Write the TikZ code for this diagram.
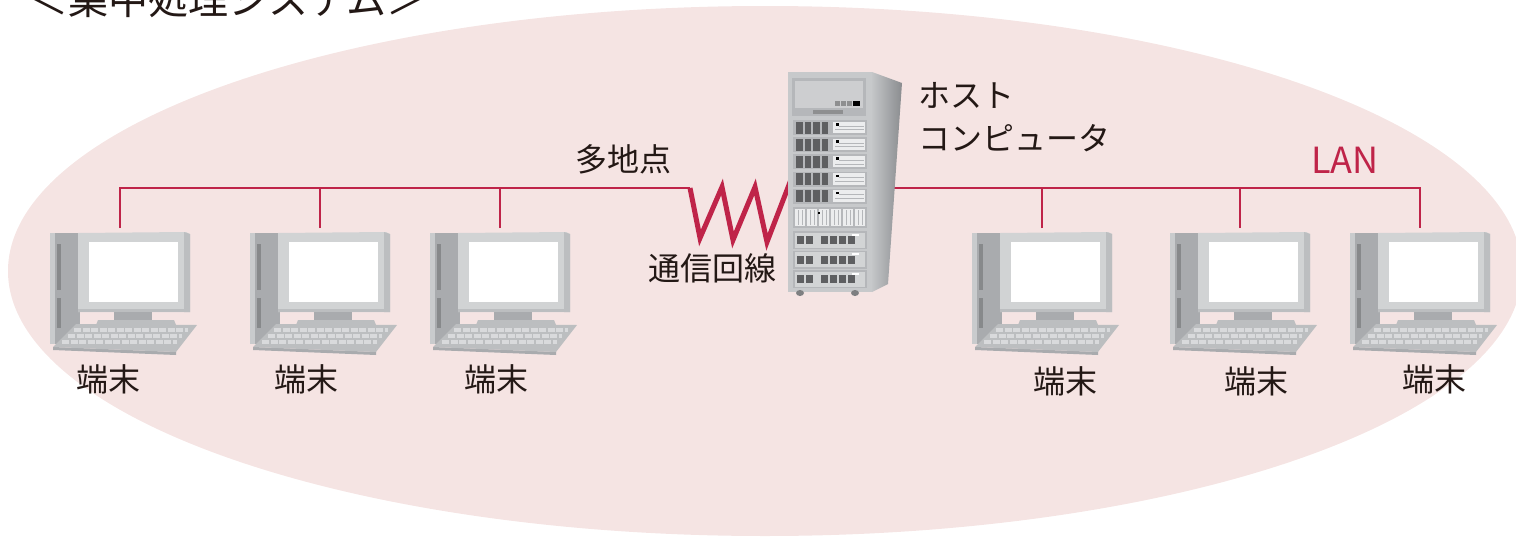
\documentclass[tikz,border=0pt]{standalone}
\usepackage{fontspec}
\setmainfont{Noto Sans CJK JP}
\definecolor{bgpink}{HTML}{F5E4E3}
\definecolor{lanred}{HTML}{BF2449}
\definecolor{ink}{HTML}{231815}
\definecolor{bezel}{HTML}{D1D3D4}
\definecolor{bezeldark}{HTML}{BCBEC0}
\definecolor{towergray}{HTML}{A9ABAE}
\definecolor{towerlight}{HTML}{C9CBCD}
\definecolor{keygray}{HTML}{BCBEC0}
\definecolor{keylight}{HTML}{D9DADC}
\definecolor{srvfront}{HTML}{C7C9CB}
\definecolor{srvpanel}{HTML}{B5B7BA}
\definecolor{srvdark}{HTML}{5E5F61}
\definecolor{srvlight}{HTML}{ECEDEE}
\definecolor{srvside}{HTML}{C4C6C8}
\definecolor{srvsidedark}{HTML}{8A8C8F}

\tikzset{
  lanline/.style={lanred, line width=2.6pt},
  zigline/.style={lanred, line width=5pt, line join=miter},
  lbl/.style={inner sep=0pt, text=ink, font=\fontsize{32}{36}\selectfont},
  % one terminal: (0,0) is the top left corner of the monitor
  terminal/.pic={
    % tower
    \fill[towergray] (-28,1) rectangle (2,112);
    \fill[towerlight] (-28,1) rectangle (-23,112);
    \fill[towergray!80!black] (-21,12) rectangle (-17,58);
    \fill[towergray!80!black] (-21,66) rectangle (-17,96);
    \fill[towerlight] (-26,104) circle (1.5);
    % monitor
    \fill[bezel] (0,1) -- (108,0) -- (112,2) -- (112,80) -- (0,80) -- cycle;
    \fill[bezeldark] (106,0) -- (112,2) -- (112,80) -- (106,80) -- cycle;
    \fill[bezeldark] (0,77) rectangle (112,80);
    \fill[white] (11,10) rectangle (100,70);
    \fill[towergray] (36,80) rectangle (74,89);
    \fill[bezeldark] (20,88) -- (96,88) -- (98,93) -- (18,93) -- cycle;
    % keyboard
    \fill[towergray] (-25,115) -- (98,120) -- (98,123) -- (-25,118) -- cycle;
    \fill[keygray] (-2,92) -- (119,93) -- (98,120) -- (-25,115) -- cycle;
    \foreach \y/\a/\b in {98/-4/110, 104/-10/104, 110/-16/99}
      \draw[keylight, line width=4pt, dash pattern=on 7pt off 1.5pt] (\a,\y) -- (\b,\y);
    \coordinate (-top) at (42,-4);
  }
}

\begin{document}
\begin{tikzpicture}[x=1pt,y=-1pt]
  \useasboundingbox (0,0) rectangle (1516,538);
  \clip (0,0) rectangle (1516,538);
  \fill[bgpink] (765,271) ellipse [x radius=757pt, y radius=265pt];

  % terminals
  \foreach \n/\x in {t1/120, t2/320, t3/500, t4/1042, t5/1240, t6/1420}
    \pic (\n) at (\x-42,232) {terminal};

  % multipoint line on the left, LAN on the right
  \coordinate (zzA) at (690,188);
  \coordinate (srvW) at (792,177);
  \coordinate (srvE) at (880,188);
  \draw[lanline] (t1-top) |- (zzA);
  \draw[lanline] (t2-top) -- (t2-top |- zzA);
  \draw[lanline] (t3-top) -- (t3-top |- zzA);
  \draw[zigline] (zzA) -- ++(10,50) -- ++(22,-51) -- ++(11,53) -- ++(22,-53)
    -- ++(12,55) -- (srvW);
  \draw[lanline] (srvE) -| (t6-top);
  \draw[lanline] (t4-top) -- (t4-top |- srvE);
  \draw[lanline] (t5-top) -- (t5-top |- srvE);

  % host computer
  \shade[left color=srvside, right color=srvsidedark]
    (872,72) -- (902,83) -- (888,284) -- (872,292) -- cycle;
  \fill[srvfront] (788,72) rectangle (872,292);
  \fill[srvpanel] (792,78) rectangle (866,116);
  \fill[srvfront!90!white] (795,81) rectangle (863,108);
  \foreach \i in {0,1,2}
    \fill[srvdark!70!white] (835+6*\i,101) rectangle +(5,5);
  \fill[black] (853,101) rectangle +(7,5);
  \fill[srvdark!70!white] (813,110) rectangle (843,114);
  \foreach \r in {0,...,4}{
    \pgfmathsetmacro\yy{120+17.2*\r}
    \fill[srvpanel] (793,\yy) rectangle (867,\yy+15);
    \foreach \s in {0,...,3}
      \fill[srvdark] (796+8.5*\s,\yy+1.5) rectangle +(6.5,12);
    \fill[srvlight] (833,\yy+1.5) rectangle (865,\yy+13);
    \draw[srvpanel, line width=.8pt] (839,\yy+6) -- (864,\yy+6);
    \draw[srvpanel, line width=.8pt] (835,\yy+9.5) -- (864,\yy+9.5);
    \fill[black] (836,\yy+3) rectangle +(2.5,2.5);
  }
  \fill[srvpanel] (793,207) rectangle (867,228);
  \foreach \s in {0,...,5}{
    \fill[srvlight] (795+12*\s,209) rectangle +(10,17);
    \draw[srvpanel, line width=.8pt] (798+12*\s,210) -- +(0,15);
    \draw[srvpanel, line width=.8pt] (802+12*\s,210) -- +(0,15);
  }
  \fill[black] (818,212) rectangle +(2,2);
  \foreach \r in {0,1,2}{
    \pgfmathsetmacro\yy{231+19.5*\r}
    \fill[srvpanel] (793,\yy) rectangle (867,\yy+18);
    \fill[srvfront!80!white] (795,\yy+1.5) rectangle (865,\yy+16.5);
    \foreach \s in {0,1}
      \fill[srvdark] (797+9*\s,\yy+5) rectangle +(7,8);
    \foreach \s in {0,...,3}
      \fill[srvdark] (821+9*\s,\yy+5) rectangle +(7,8);
    \fill[white] (852,\yy+2.5) rectangle +(7,2);
  }
  \fill[srvdark!80!white] (800,293) ellipse [x radius=4pt, y radius=3pt];
  \fill[srvdark!80!white] (855,293) ellipse [x radius=4pt, y radius=3pt];

  % labels
  \node[lbl, anchor=base west, font=\fontsize{40}{44}\selectfont] (ttl) at (28,14)
    {＜集中処理システム＞};
  \node[lbl] (multi) at (623,159) {多地点};
  \node[lbl] (line) at (712,268) {通信回線};
  \node[lbl, anchor=west] (host1) at (918,95) {ホスト};
  \node[lbl, anchor=west] (host2) at (918,138) {コンピュータ};
  \node[lbl, text=lanred, font=\fontsize{36}{40}\selectfont] (lan) at (1345,160) {LAN};
  \foreach \k/\x/\y in {1/108/379, 2/306/379, 3/496/379, 4/1065/381, 5/1256/381, 6/1434/379}
    \node[lbl] (term\k) at (\x,\y) {端末};
\end{tikzpicture}
\end{document}
